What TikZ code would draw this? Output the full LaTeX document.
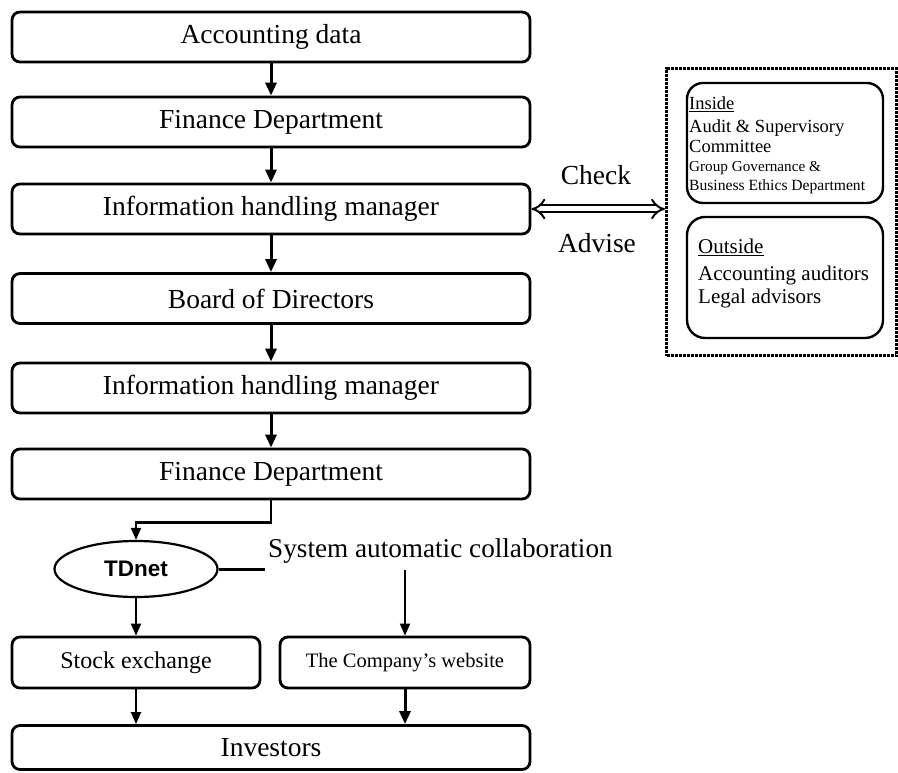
\documentclass[tikz,border=0pt]{standalone}
\usepackage{fontspec}
\setmainfont{Liberation Serif}
\newfontfamily\arialfont{Liberation Sans}
\usetikzlibrary{arrows.meta,shapes.geometric,calc}
\begin{document}
\begin{tikzpicture}[x=1pt,y=-1pt,
  box/.style={draw, line width=2.8pt, rounded corners=8pt, minimum width=518pt,
    minimum height=50pt, inner sep=0pt, font=\fontsize{27.5}{30}\selectfont},
  arr/.style={line width=3pt, -{Triangle[length=13pt,width=11pt]}},
  tarr/.style={line width=2.2pt, -{Triangle[length=12pt,width=10pt]}},
  sidebox/.style={draw, line width=2.4pt, rounded corners=16pt, minimum width=196pt, inner sep=0pt},
  dbl/.style={line width=2pt, double distance=5pt, {Implies[length=9pt,width=18pt]}-{Implies[length=9pt,width=18pt]}},
  lbl/.style={font=\fontsize{27.5}{30}\selectfont},
]
\useasboundingbox (0,0) rectangle (898,773);

% main column
\node[box] (a1) at (271,37) {Accounting data};
\node[box] (a2) at (271,122) {Finance Department};
\node[box] (a3) at (271,209) {Information handling manager};
\node[box] (a4) at (271,298.5) {Board of Directors};
\node[box] (a5) at (271,388) {Information handling manager};
\node[box] (a6) at (271,474) {Finance Department};

\draw[arr] (a1.south) -- (a2.north);
\draw[arr] (a2.south) -- (a3.north);
\draw[arr] (a3.south) -- (a4.north);
\draw[arr] (a4.south) -- (a5.north);
\draw[arr] (a5.south) -- (a6.north);

% TDnet
\node[draw, ellipse, line width=2.2pt, minimum width=163pt, minimum height=56pt, inner sep=0pt,
  font=\arialfont\bfseries\fontsize{22.5}{24}\selectfont] (td) at (136,569) {TDnet};
\draw[tarr] (a6.south) -- ++(0,22) -| (td.north);

\node[anchor=west, inner sep=0pt, font=\fontsize{27.2}{30}\selectfont] (sys) at (268,551) {System automatic collaboration};
\coordinate (tdend) at (265,569);
\draw[line width=3pt] (td.east) -- (tdend);
\coordinate (webstart) at (405,570);

\node[box, minimum width=248pt, minimum height=51pt, font=\fontsize{24}{26}\selectfont] (se) at (136,662.5) {Stock exchange};
\node[box, minimum width=250pt, minimum height=51pt, font=\fontsize{20.5}{24}\selectfont] (web) at (405,662.5) {The Company’s website};
\node[box, minimum height=44pt] (inv) at (271,747.5) {Investors};

\draw[tarr] (td.south) -- (se.north);
\draw[line width=1.8pt, -{Triangle[length=12pt,width=10pt]}] (webstart) -- (web.north);
\draw[tarr] (se.south) -- (inv.north -| se.south);
\draw[arr] (web.south) -- (inv.north -| web.south);

% right panel
\node[draw, dash pattern=on 3pt off 1pt, line width=3.2pt, minimum width=230pt, minimum height=287pt,
  inner sep=0pt, anchor=north west] (frame) at (665,67) {};
\node[sidebox, minimum height=120pt] (inbox) at (785,143) {};
\node[sidebox, minimum height=121pt, rounded corners=18pt] (outbox) at (785,277.5) {};

\node[anchor=base west, inner sep=0pt, font=\fontsize{18.5}{20}\selectfont] (i1) at (689,110) {\underline{Inside}};
\node[anchor=base west, inner sep=0pt, font=\fontsize{18.5}{20}\selectfont] (i2) at (689,133) {Audit \& Supervisory};
\node[anchor=base west, inner sep=0pt, font=\fontsize{18.5}{20}\selectfont] (i3) at (689,153) {Committee};
\node[anchor=base west, inner sep=0pt, font=\fontsize{15.2}{17}\selectfont] (i4) at (689,172) {Group Governance \&};
\node[anchor=base west, inner sep=0pt, font=\fontsize{15.6}{17}\selectfont] (i5) at (689,191) {Business Ethics Department};

\node[anchor=base west, inner sep=0pt, font=\fontsize{21}{24}\selectfont] (o1) at (698,254) {\underline{Outside}};
\node[anchor=base west, inner sep=0pt, font=\fontsize{21}{24}\selectfont] (o2) at (698,280) {Accounting auditors};
\node[anchor=base west, inner sep=0pt, font=\fontsize{21}{24}\selectfont] (o3) at (698,303) {Legal advisors};

\draw[dbl] (a3.east) -- (a3.east -| frame.west);
\node[lbl] (chk) at (596,175) {Check};
\node[lbl] (adv) at (597,243) {Advise};
\end{tikzpicture}
\end{document}
